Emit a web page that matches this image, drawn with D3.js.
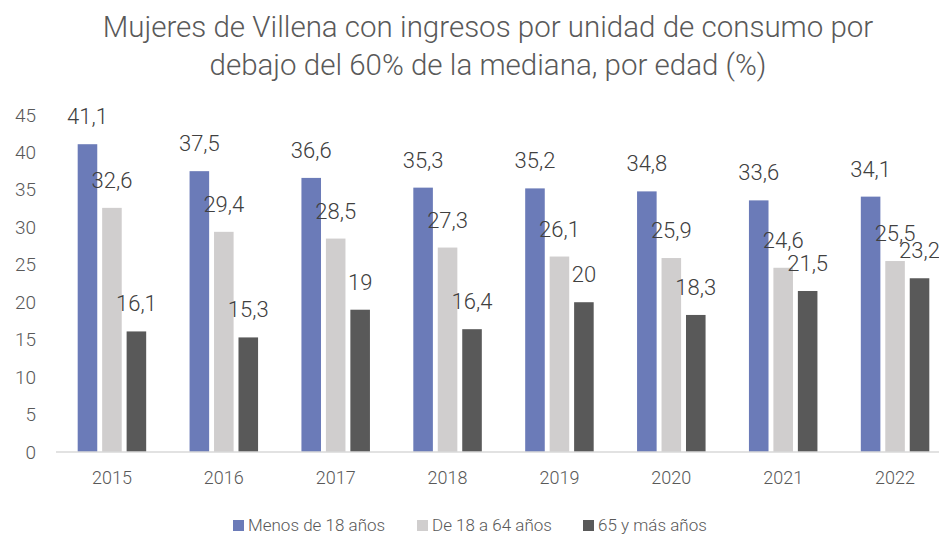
<!DOCTYPE html>
<html>
<head>
<meta charset="utf-8">
<script src="https://cdn.jsdelivr.net/npm/d3@7"></script>
<style>
  body { margin: 0; background: #fff; }
  svg { display: block; font-family: "Roboto Light", Roboto, sans-serif; font-weight: 300; }
  .tick text { fill: #595959; }
</style>
</head>
<body>
<svg width="939" height="538"></svg>
<script>
  const years = ['2015', '2016', '2017', '2018', '2019', '2020', '2021', '2022'];
  const seriesNames = ['Menos de 18 años', 'De 18 a 64 años', '65 y más años'];
  const menos18 = [41.1, 37.5, 36.6, 35.3, 35.2, 34.8, 33.6, 34.1];
  const de18a64 = [32.6, 29.4, 28.5, 27.3, 26.1, 25.9, 24.6, 25.5];
  const mas65 = [16.1, 15.3, 19, 16.4, 20, 18.3, 21.5, 23.2];
  const yTicks = [0, 5, 10, 15, 20, 25, 30, 35, 40, 45];
  const colors = ['#6b7bb8', '#d0cece', '#595959'];

  const svg = d3.select('svg');
  const textColor = '#595959';
  const font = '"Roboto Light", Roboto, sans-serif';

  const seriesValues = [menos18, de18a64, mas65];
  const data = years.map((year, i) => ({
    year,
    values: seriesNames.map((name, s) => ({ name, s, value: seriesValues[s][i] }))
  }));

  const x0 = d3.scaleBand()
    .domain(years)
    .range([56, 951]);

  const groupWidth = 68.5;
  const x1 = d3.scaleBand()
    .domain(seriesNames)
    .range([0, groupWidth])
    .paddingInner(0.2);

  const y = d3.scaleLinear()
    .domain([0, 45])
    .range([452, 115]);

  // title
  const title = svg.append('text')
    .attr('x', 488)
    .attr('text-anchor', 'middle')
    .attr('fill', textColor)
    .attr('font-size', 29.5);
  title.append('tspan').attr('x', 488).attr('y', 37)
    .text('Mujeres de Villena con ingresos por unidad de consumo por');
  title.append('tspan').attr('x', 488).attr('y', 75)
    .text('debajo del 60% de la mediana, por edad (%)');

  // y axis (labels only)
  const yAxisG = svg.append('g')
    .attr('transform', 'translate(36,0)')
    .call(d3.axisLeft(y).tickValues(yTicks).tickSize(0).tickPadding(0));
  yAxisG.select('.domain').remove();
  yAxisG.selectAll('text').attr('font-size', 19).attr('font-family', font).attr('font-weight', 300);

  // x axis
  const xAxisG = svg.append('g')
    .attr('transform', `translate(0,${y(0)})`)
    .call(d3.axisBottom(x0).tickSize(0).tickPadding(19));
  xAxisG.select('.domain').remove();
  xAxisG.selectAll('text').attr('font-size', 18).attr('font-family', font).attr('font-weight', 300);

  // bars
  const groups = svg.append('g').selectAll('g').data(data)
    .enter().append('g')
      .attr('transform', d => `translate(${x0(d.year) + (x0.bandwidth() - groupWidth) / 2},0)`);

  groups.selectAll('rect').data(d => d.values)
    .enter().append('rect')
      .attr('x', d => x1(d.name))
      .attr('y', d => y(d.value))
      .attr('width', x1.bandwidth())
      .attr('height', d => y(0) - y(d.value))
      .attr('fill', d => colors[d.s]);

  groups.selectAll('text.label').data(d => d.values)
    .enter().append('text')
      .attr('class', 'label')
      .attr('x', d => x1(d.name) + x1.bandwidth() / 2)
      .attr('y', d => y(d.value) - 20)
      .attr('text-anchor', 'middle')
      .attr('fill', '#404040')
      .attr('font-size', 22)
      .text(d => String(d.value).replace('.', ','));

  // baseline
  svg.append('line')
    .attr('x1', 56).attr('x2', 939)
    .attr('y1', y(0)).attr('y2', y(0))
    .attr('stroke', '#d9d9d9')
    .attr('stroke-width', 1.5);

  // legend
  const legendX = [233, 417, 583];
  const legend = svg.append('g').selectAll('g').data(seriesNames)
    .enter().append('g')
      .attr('transform', (d, i) => `translate(${legendX[i]},520)`);
  legend.append('rect')
    .attr('width', 11).attr('height', 11)
    .attr('fill', (d, i) => colors[i]);
  legend.append('text')
    .attr('x', 15).attr('y', 11)
    .attr('fill', textColor)
    .attr('font-size', 17)
    .text(d => d);
</script>
</body>
</html>
